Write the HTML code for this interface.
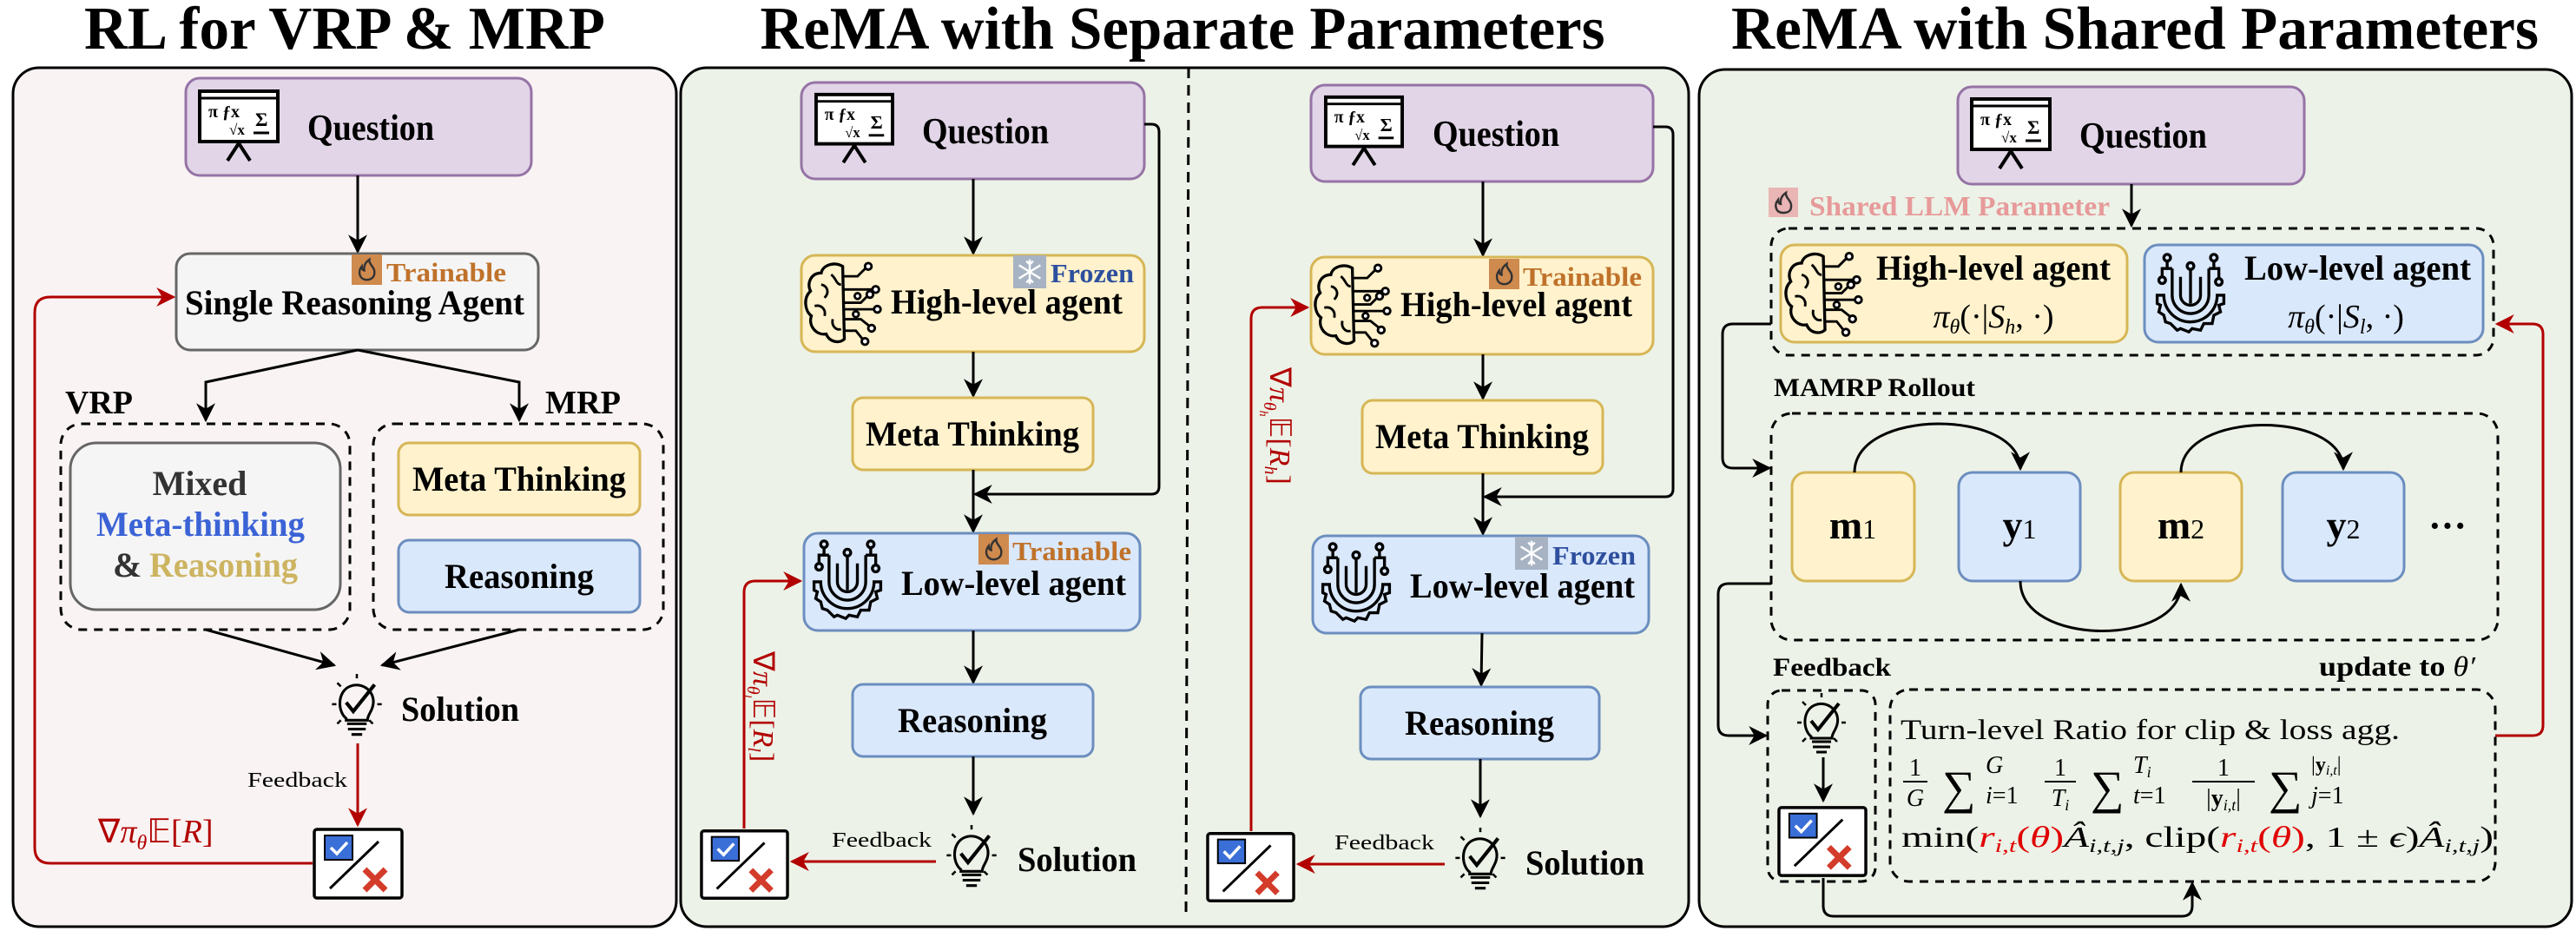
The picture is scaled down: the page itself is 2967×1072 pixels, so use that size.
<!DOCTYPE html>
<html><head><meta charset="utf-8"><style>
html,body{margin:0;padding:0;background:#fff;}
svg{display:block;}
text{font-family:"Liberation Serif",serif;}
.b{font-weight:bold;}
</style></head><body>
<svg width="2967" height="1072" viewBox="0 0 2967 1072" xmlns="http://www.w3.org/2000/svg">
<defs>
<marker id="ab" viewBox="0 0 10 10" refX="9" refY="5" markerWidth="22" markerHeight="22" markerUnits="userSpaceOnUse" orient="auto"><path d="M0,0 L10,5 L0,10 L3,5 z" fill="#000"/></marker>
<marker id="ar" viewBox="0 0 10 10" refX="9" refY="5" markerWidth="22" markerHeight="22" markerUnits="userSpaceOnUse" orient="auto"><path d="M0,0 L10,5 L0,10 L3,5 z" fill="#b20000"/></marker>
<symbol id="board" viewBox="0 0 94 84">
<rect x="2" y="2" width="90" height="58" fill="#fff" stroke="#000" stroke-width="4"/>
<line x1="2" y1="10" x2="92" y2="10" stroke="#000" stroke-width="3"/>
<text x="12" y="32" font-size="20" font-weight="bold">π ƒx</text>
<text x="36" y="52" font-size="17" font-weight="bold">√x</text>
<text x="66" y="42" font-size="22" font-weight="bold">Σ</text>
<line x1="64" y1="50" x2="82" y2="50" stroke="#000" stroke-width="3"/>
<path d="M47,62 L34,82 M47,62 L60,82" stroke="#000" stroke-width="4" fill="none"/>
</symbol>
<symbol id="brain" viewBox="0 0 100 105">
<path d="M48,8 C38,2 24,6 22,16 C10,16 4,28 9,38 C0,46 2,62 10,68 C6,80 16,92 28,90 C32,100 44,102 50,96 Z" fill="none" stroke="#000" stroke-width="3.5"/>
<path d="M22,30 C30,32 32,40 26,46 M14,56 C22,54 28,60 26,68 M36,72 C34,80 40,86 46,84 M34,18 C40,22 40,30 46,30" fill="none" stroke="#000" stroke-width="3"/>
<g stroke="#000" stroke-width="3" fill="#fff">
<path d="M50,20 H66 L76,10 M50,36 H84 M50,52 H70 L78,44 M50,60 H86 M50,72 H70 L80,80 M50,86 H64 L72,96" fill="none"/>
<circle cx="79" cy="8" r="4"/><circle cx="88" cy="36" r="4"/><circle cx="81" cy="42" r="4"/><circle cx="90" cy="60" r="4"/><circle cx="83" cy="83" r="4"/><circle cx="75" cy="99" r="4"/>
<circle cx="66" cy="44" r="3.5"/><circle cx="64" cy="66" r="3.5"/>
</g>
</symbol>
<symbol id="ugear" viewBox="0 0 100 100">
<g fill="none" stroke="#000" stroke-width="3.5">
<path d="M28,20 V52 A22,22 0 0 0 72,52 V20"/>
<path d="M38,30 V52 A12,12 0 0 0 62,52 V30"/>
<path d="M50,62 V22"/><circle cx="50" cy="17" r="4"/>
<path d="M28,20 H16 V30"/><circle cx="16" cy="34" r="4"/>
<path d="M72,20 H84 V32"/><circle cx="84" cy="36" r="4"/>
<path d="M22,10 V20 M78,10 V20"/><circle cx="22" cy="7" r="4"/><circle cx="78" cy="7" r="4"/>
<path d="M10,52 H18 A32,32 0 0 0 82,52 H90 V62 L84,64 L86,72 L78,76 L76,86 L66,86 L62,94 L52,92 L48,96 L38,92 L34,94 L26,86 L20,84 L18,76 L12,72 L14,64 L10,62 Z"/>
</g>
</symbol>
<symbol id="bulb" viewBox="0 0 60 84">
<g fill="none" stroke="#000" stroke-width="3">
<path d="M18,52 C8,44 8,22 22,16 C36,10 52,22 48,38 C46,46 42,48 42,54 H18 Z"/>
<path d="M19,58 H41 M20,64 H40 M24,70 H36"/>
<path d="M18,34 L26,44 L50,14" stroke-width="4"/>
<path d="M30,2 V7 M8,12 L12,16 M2,36 H7 M53,36 H58 M8,58 L12,54 M48,58 L44,54" stroke-width="2.5"/>
</g>
</symbol>
<symbol id="chk" viewBox="0 0 105 83">
<rect x="2" y="2" width="101" height="79" rx="3" fill="#fff" stroke="#000" stroke-width="3.5"/>
<rect x="14" y="9" width="32" height="28" fill="#3a6fd8" stroke="#000" stroke-width="2"/>
<path d="M21,23 L28,30 L40,17" stroke="#fff" stroke-width="3.5" fill="none"/>
<line x1="20" y1="70" x2="76" y2="16" stroke="#000" stroke-width="3"/>
<path d="M60,48 L84,72 M84,48 L60,72" stroke="#d33b2a" stroke-width="7"/>
</symbol>
<symbol id="flame" viewBox="0 0 36 36">
<rect width="36" height="36" fill="#cf8a4e"/>
<path d="M18,30 C9,30 7,20 12,14 C12,19 15,19 15,19 C14,12 18,8 21,6 C20,12 28,15 27,22 C27,27 23,30 18,30 Z" fill="none" stroke="#333" stroke-width="2.5"/>
</symbol>
<symbol id="snow" viewBox="0 0 40 40">
<rect width="40" height="40" fill="#a7b3c3"/>
<g stroke="#fff" stroke-width="2.5"><path d="M20,5 V35 M7,12 L33,28 M7,28 L33,12"/><path d="M16,7 L20,11 L24,7 M16,33 L20,29 L24,33" fill="none"/></g>
</symbol>
</defs>

<!-- Titles -->
<text x="397" y="56" font-size="70" class="b" text-anchor="middle" textLength="600" lengthAdjust="spacingAndGlyphs">RL for VRP &amp; MRP</text>
<text x="1362" y="56" font-size="70" class="b" text-anchor="middle" textLength="973" lengthAdjust="spacingAndGlyphs">ReMA with Separate Parameters</text>
<text x="2459" y="56" font-size="70" class="b" text-anchor="middle" textLength="930" lengthAdjust="spacingAndGlyphs">ReMA with Shared Parameters</text>

<!-- Panels -->
<rect x="15" y="78" width="764" height="989" rx="30" fill="#f9f3f3" stroke="#000" stroke-width="3"/>
<rect x="784" y="78" width="1161" height="989" rx="30" fill="#ecf2e7" stroke="#000" stroke-width="3"/>
<rect x="1957" y="80" width="1005" height="987" rx="30" fill="#ecf2e7" stroke="#000" stroke-width="3"/>
<line x1="1369" y1="78" x2="1366" y2="1056" stroke="#000" stroke-width="3" stroke-dasharray="12,8"/>

<!-- ===== Panel 1 ===== -->
<rect x="214" y="90" width="398" height="112" rx="16" fill="#e1d5e7" stroke="#9673a6" stroke-width="3"/>
<use href="#board" x="228" y="103" width="94" height="84"/>
<text x="354" y="161" font-size="42" class="b" textLength="146" lengthAdjust="spacingAndGlyphs">Question</text>
<line x1="412" y1="202" x2="412" y2="290" stroke="#000" stroke-width="3" marker-end="url(#ab)"/>
<rect x="203" y="292" width="417" height="111" rx="16" fill="#f5f5f5" stroke="#666" stroke-width="3"/>
<use href="#flame" x="405" y="293" width="35" height="35"/>
<text x="445" y="324" font-size="31" class="b" fill="#c0722a" textLength="138" lengthAdjust="spacingAndGlyphs">Trainable</text>
<text x="213" y="362" font-size="40" class="b" textLength="391" lengthAdjust="spacingAndGlyphs">Single Reasoning Agent</text>
<path d="M412,403 L237,440 L237,484" fill="none" stroke="#000" stroke-width="3" marker-end="url(#ab)"/>
<path d="M412,403 L598,440 L598,484" fill="none" stroke="#000" stroke-width="3" marker-end="url(#ab)"/>
<text x="75" y="476" font-size="38" class="b" textLength="78" lengthAdjust="spacingAndGlyphs">VRP</text>
<text x="628" y="476" font-size="38" class="b" textLength="87" lengthAdjust="spacingAndGlyphs">MRP</text>
<rect x="70" y="488" width="333" height="237" rx="24" fill="none" stroke="#000" stroke-width="3" stroke-dasharray="10,8"/>
<rect x="430" y="488" width="334" height="237" rx="24" fill="none" stroke="#000" stroke-width="3" stroke-dasharray="10,8"/>
<rect x="81" y="510" width="311" height="192" rx="30" fill="#f5f5f5" stroke="#666" stroke-width="3"/>
<text x="230" y="570" font-size="40" class="b" fill="#333" text-anchor="middle">Mixed</text>
<text x="231" y="617" font-size="40" class="b" fill="#3b63d6" text-anchor="middle" textLength="240" lengthAdjust="spacingAndGlyphs">Meta-thinking</text>
<text x="130" y="664" font-size="40" class="b" fill="#333">&amp;</text>
<text x="172" y="664" font-size="40" class="b" fill="#cdb461" textLength="171" lengthAdjust="spacingAndGlyphs">Reasoning</text>
<rect x="459" y="510" width="278" height="83" rx="12" fill="#fff2cc" stroke="#d6b656" stroke-width="3"/>
<text x="598" y="565" font-size="40" class="b" text-anchor="middle" textLength="246" lengthAdjust="spacingAndGlyphs">Meta Thinking</text>
<rect x="459" y="622" width="278" height="83" rx="12" fill="#dae8fc" stroke="#6c8ebf" stroke-width="3"/>
<text x="598" y="677" font-size="40" class="b" text-anchor="middle" textLength="172" lengthAdjust="spacingAndGlyphs">Reasoning</text>
<line x1="237" y1="725" x2="385" y2="766" stroke="#000" stroke-width="3" marker-end="url(#ab)"/>
<line x1="598" y1="725" x2="440" y2="766" stroke="#000" stroke-width="3" marker-end="url(#ab)"/>
<use href="#bulb" x="380" y="774" width="62" height="86"/>
<text x="462" y="830" font-size="40" class="b" textLength="136" lengthAdjust="spacingAndGlyphs">Solution</text>
<line x1="412" y1="856" x2="412" y2="950" stroke="#b20000" stroke-width="3" marker-end="url(#ar)"/>
<text x="285" y="906" font-size="24" textLength="115" lengthAdjust="spacingAndGlyphs">Feedback</text>
<use href="#chk" x="360" y="953" width="105" height="83"/>
<path d="M360,994 L58,994 Q40,994 40,976 L40,360 Q40,342 58,342 L200,342" fill="none" stroke="#b20000" stroke-width="3" marker-end="url(#ar)"/>
<text x="113" y="970" font-size="38" fill="#b20000">∇<tspan font-style="italic">π</tspan><tspan font-size="24" dy="8" font-style="italic">θ</tspan><tspan dy="-8">𝔼[</tspan><tspan font-style="italic">R</tspan>]</text>

<!-- ===== Panel 2 left ===== -->
<rect x="923" y="95" width="395" height="111" rx="16" fill="#e1d5e7" stroke="#9673a6" stroke-width="3"/>
<use href="#board" x="938" y="106" width="92" height="84"/>
<text x="1062" y="165" font-size="42" class="b" textLength="146" lengthAdjust="spacingAndGlyphs">Question</text>
<line x1="1121" y1="206" x2="1121" y2="292" stroke="#000" stroke-width="3" marker-end="url(#ab)"/>
<rect x="923" y="294" width="395" height="111" rx="16" fill="#fff2cc" stroke="#d6b656" stroke-width="3"/>
<use href="#brain" x="925" y="298" width="95" height="102"/>
<use href="#snow" x="1166" y="294" width="40" height="38"/>
<text x="1210" y="325" font-size="31" class="b" fill="#2d4f9e" textLength="96" lengthAdjust="spacingAndGlyphs">Frozen</text>
<text x="1026" y="361" font-size="40" class="b" textLength="267" lengthAdjust="spacingAndGlyphs">High-level agent</text>
<line x1="1121" y1="405" x2="1121" y2="456" stroke="#000" stroke-width="3" marker-end="url(#ab)"/>
<rect x="982" y="458" width="277" height="83" rx="12" fill="#fff2cc" stroke="#d6b656" stroke-width="3"/>
<text x="1120" y="513" font-size="40" class="b" text-anchor="middle" textLength="246" lengthAdjust="spacingAndGlyphs">Meta Thinking</text>
<line x1="1121" y1="541" x2="1121" y2="612" stroke="#000" stroke-width="3" marker-end="url(#ab)"/>
<path d="M1318,143 L1326,143 Q1335,143 1335,152 L1335,560 Q1335,569 1326,569 L1123,569" fill="none" stroke="#000" stroke-width="3" marker-end="url(#ab)"/>
<rect x="926" y="614" width="387" height="112" rx="16" fill="#dae8fc" stroke="#6c8ebf" stroke-width="3"/>
<use href="#ugear" x="928" y="618" width="96" height="100"/>
<use href="#flame" x="1127" y="615" width="35" height="35"/>
<text x="1166" y="645" font-size="31" class="b" fill="#c0722a" textLength="137" lengthAdjust="spacingAndGlyphs">Trainable</text>
<text x="1038" y="685" font-size="40" class="b" textLength="259" lengthAdjust="spacingAndGlyphs">Low-level agent</text>
<line x1="1121" y1="726" x2="1121" y2="786" stroke="#000" stroke-width="3" marker-end="url(#ab)"/>
<rect x="982" y="788" width="277" height="83" rx="12" fill="#dae8fc" stroke="#6c8ebf" stroke-width="3"/>
<text x="1120" y="843" font-size="40" class="b" text-anchor="middle" textLength="172" lengthAdjust="spacingAndGlyphs">Reasoning</text>
<line x1="1121" y1="871" x2="1121" y2="937" stroke="#000" stroke-width="3" marker-end="url(#ab)"/>
<use href="#bulb" x="1088" y="948" width="62" height="86"/>
<text x="1172" y="1003" font-size="40" class="b" textLength="137" lengthAdjust="spacingAndGlyphs">Solution</text>
<line x1="1078" y1="992" x2="912" y2="992" stroke="#b20000" stroke-width="3" marker-end="url(#ar)"/>
<text x="958" y="975" font-size="24" textLength="115" lengthAdjust="spacingAndGlyphs">Feedback</text>
<use href="#chk" x="806" y="954" width="103" height="83"/>
<path d="M857,954 L857,682 Q857,669 870,669 L922,669" fill="none" stroke="#b20000" stroke-width="3" marker-end="url(#ar)"/>
<text x="868" y="750" font-size="34" fill="#b20000" transform="rotate(90 868 750)">∇<tspan font-style="italic">π</tspan><tspan font-size="20" dy="7" font-style="italic">θ</tspan><tspan font-size="14" dy="5" font-style="italic">l</tspan><tspan dy="-12">𝔼[</tspan><tspan font-style="italic">R</tspan><tspan font-size="20" dy="6" font-style="italic">l</tspan><tspan dy="-6">]</tspan></text>

<!-- ===== Panel 2 right ===== -->
<rect x="1510" y="98" width="394" height="111" rx="16" fill="#e1d5e7" stroke="#9673a6" stroke-width="3"/>
<use href="#board" x="1525" y="109" width="92" height="84"/>
<text x="1650" y="168" font-size="42" class="b" textLength="146" lengthAdjust="spacingAndGlyphs">Question</text>
<line x1="1708" y1="209" x2="1708" y2="294" stroke="#000" stroke-width="3" marker-end="url(#ab)"/>
<rect x="1510" y="296" width="394" height="112" rx="16" fill="#fff2cc" stroke="#d6b656" stroke-width="3"/>
<use href="#brain" x="1512" y="300" width="95" height="102"/>
<use href="#flame" x="1715" y="298" width="35" height="35"/>
<text x="1754" y="329" font-size="31" class="b" fill="#c0722a" textLength="137" lengthAdjust="spacingAndGlyphs">Trainable</text>
<text x="1613" y="364" font-size="40" class="b" textLength="267" lengthAdjust="spacingAndGlyphs">High-level agent</text>
<line x1="1708" y1="408" x2="1708" y2="459" stroke="#000" stroke-width="3" marker-end="url(#ab)"/>
<rect x="1569" y="461" width="277" height="84" rx="12" fill="#fff2cc" stroke="#d6b656" stroke-width="3"/>
<text x="1707" y="516" font-size="40" class="b" text-anchor="middle" textLength="246" lengthAdjust="spacingAndGlyphs">Meta Thinking</text>
<line x1="1708" y1="545" x2="1708" y2="615" stroke="#000" stroke-width="3" marker-end="url(#ab)"/>
<path d="M1904,146 L1918,146 Q1927,146 1927,155 L1927,563 Q1927,572 1918,572 L1710,572" fill="none" stroke="#000" stroke-width="3" marker-end="url(#ab)"/>
<rect x="1512" y="617" width="387" height="112" rx="16" fill="#dae8fc" stroke="#6c8ebf" stroke-width="3"/>
<use href="#ugear" x="1514" y="621" width="96" height="100"/>
<use href="#snow" x="1744" y="618" width="40" height="38"/>
<text x="1788" y="650" font-size="31" class="b" fill="#2d4f9e" textLength="96" lengthAdjust="spacingAndGlyphs">Frozen</text>
<text x="1624" y="688" font-size="40" class="b" textLength="259" lengthAdjust="spacingAndGlyphs">Low-level agent</text>
<line x1="1707" y1="729" x2="1706" y2="789" stroke="#000" stroke-width="3" marker-end="url(#ab)"/>
<rect x="1567" y="791" width="275" height="83" rx="12" fill="#dae8fc" stroke="#6c8ebf" stroke-width="3"/>
<text x="1704" y="846" font-size="40" class="b" text-anchor="middle" textLength="172" lengthAdjust="spacingAndGlyphs">Reasoning</text>
<line x1="1705" y1="874" x2="1705" y2="940" stroke="#000" stroke-width="3" marker-end="url(#ab)"/>
<use href="#bulb" x="1674" y="951" width="62" height="86"/>
<text x="1757" y="1007" font-size="40" class="b" textLength="137" lengthAdjust="spacingAndGlyphs">Solution</text>
<line x1="1664" y1="995" x2="1495" y2="995" stroke="#b20000" stroke-width="3" marker-end="url(#ar)"/>
<text x="1537" y="978" font-size="24" textLength="115" lengthAdjust="spacingAndGlyphs">Feedback</text>
<use href="#chk" x="1389" y="957" width="103" height="83"/>
<path d="M1441,957 L1441,367 Q1441,354 1454,354 L1506,354" fill="none" stroke="#b20000" stroke-width="3" marker-end="url(#ar)"/>
<text x="1463" y="423" font-size="34" fill="#b20000" transform="rotate(90 1463 423)">∇<tspan font-style="italic">π</tspan><tspan font-size="20" dy="7" font-style="italic">θ</tspan><tspan font-size="14" dy="5" font-style="italic">h</tspan><tspan dy="-12">𝔼[</tspan><tspan font-style="italic">R</tspan><tspan font-size="20" dy="6" font-style="italic">h</tspan><tspan dy="-6">]</tspan></text>

<!-- ===== Panel 3 ===== -->
<rect x="2255" y="100" width="399" height="112" rx="16" fill="#e1d5e7" stroke="#9673a6" stroke-width="3"/>
<use href="#board" x="2269" y="112" width="94" height="84"/>
<text x="2395" y="170" font-size="42" class="b" textLength="147" lengthAdjust="spacingAndGlyphs">Question</text>
<line x1="2455" y1="212" x2="2455" y2="260" stroke="#000" stroke-width="3" marker-end="url(#ab)"/>
<rect x="2037" y="216" width="34" height="34" fill="#eab5b5"/>
<path d="M2054,245 C2045,245 2043,236 2048,230 C2048,235 2051,235 2051,235 C2050,228 2054,224 2057,222 C2056,228 2064,231 2063,238 C2063,243 2059,245 2054,245 Z" fill="none" stroke="#333" stroke-width="2.5"/>
<text x="2084" y="248" font-size="32" class="b" fill="#e79a9a" textLength="346" lengthAdjust="spacingAndGlyphs">Shared LLM Parameter</text>
<rect x="2040" y="263" width="832" height="146" rx="20" fill="none" stroke="#000" stroke-width="3" stroke-dasharray="10,8"/>
<rect x="2051" y="282" width="399" height="112" rx="16" fill="#fff2cc" stroke="#d6b656" stroke-width="3"/>
<use href="#brain" x="2054" y="287" width="96" height="102"/>
<text x="2161" y="322" font-size="40" class="b" textLength="270" lengthAdjust="spacingAndGlyphs">High-level agent</text>
<text x="2296" y="377" font-size="38" text-anchor="middle"><tspan font-style="italic">π</tspan><tspan font-size="24" dy="7" font-style="italic">θ</tspan><tspan dy="-7">(·|</tspan><tspan font-style="italic">S</tspan><tspan font-size="24" dy="7" font-style="italic">h</tspan><tspan dy="-7">, ·)</tspan></text>
<rect x="2470" y="282" width="390" height="112" rx="16" fill="#dae8fc" stroke="#6c8ebf" stroke-width="3"/>
<use href="#ugear" x="2475" y="288" width="96" height="100"/>
<text x="2585" y="322" font-size="40" class="b" textLength="261" lengthAdjust="spacingAndGlyphs">Low-level agent</text>
<text x="2702" y="377" font-size="38" text-anchor="middle"><tspan font-style="italic">π</tspan><tspan font-size="24" dy="7" font-style="italic">θ</tspan><tspan dy="-7">(·|</tspan><tspan font-style="italic">S</tspan><tspan font-size="24" dy="7" font-style="italic">l</tspan><tspan dy="-7">, ·)</tspan></text>
<text x="2043" y="456" font-size="30" class="b" textLength="232" lengthAdjust="spacingAndGlyphs">MAMRP Rollout</text>
<rect x="2040" y="476" width="837" height="261" rx="24" fill="none" stroke="#000" stroke-width="3" stroke-dasharray="10,8"/>
<path d="M2040,373 L1996,373 Q1984,373 1984,385 L1984,527 Q1984,539 1996,539 L2038,539" fill="none" stroke="#000" stroke-width="3" marker-end="url(#ab)"/>
<path d="M2040,672 L1991,672 Q1979,672 1979,684 L1979,835 Q1979,847 1991,847 L2034,847" fill="none" stroke="#000" stroke-width="3" marker-end="url(#ab)"/>
<rect x="2064" y="544" width="141" height="125" rx="16" fill="#fff2cc" stroke="#d6b656" stroke-width="3"/>
<rect x="2256" y="544" width="140" height="125" rx="16" fill="#dae8fc" stroke="#6c8ebf" stroke-width="3"/>
<rect x="2442" y="544" width="140" height="125" rx="16" fill="#fff2cc" stroke="#d6b656" stroke-width="3"/>
<rect x="2629" y="544" width="140" height="125" rx="16" fill="#dae8fc" stroke="#6c8ebf" stroke-width="3"/>
<text x="2134" y="620" font-size="46" text-anchor="middle"><tspan class="b">m</tspan><tspan font-size="32">1</tspan></text>
<text x="2326" y="620" font-size="46" text-anchor="middle"><tspan class="b">y</tspan><tspan font-size="32">1</tspan></text>
<text x="2512" y="620" font-size="46" text-anchor="middle"><tspan class="b">m</tspan><tspan font-size="32">2</tspan></text>
<text x="2699" y="620" font-size="46" text-anchor="middle"><tspan class="b">y</tspan><tspan font-size="32">2</tspan></text>
<text x="2819" y="620" font-size="44" class="b" text-anchor="middle">···</text>
<path d="M2136,544 C2136,470 2327,470 2327,540" fill="none" stroke="#000" stroke-width="3" marker-end="url(#ab)"/>
<path d="M2512,544 C2512,472 2699,472 2699,540" fill="none" stroke="#000" stroke-width="3" marker-end="url(#ab)"/>
<path d="M2327,669 C2327,745 2512,745 2512,673" fill="none" stroke="#000" stroke-width="3" marker-end="url(#ab)"/>
<text x="2042" y="778" font-size="30" class="b" textLength="136" lengthAdjust="spacingAndGlyphs">Feedback</text>
<text x="2671" y="778" font-size="32" class="b" textLength="180" lengthAdjust="spacingAndGlyphs">update to <tspan font-style="italic" font-weight="normal">θ′</tspan></text>
<rect x="2036" y="795" width="124" height="220" rx="16" fill="none" stroke="#000" stroke-width="3" stroke-dasharray="10,8"/>
<use href="#bulb" x="2068" y="796" width="60" height="84"/>
<line x1="2100" y1="872" x2="2100" y2="922" stroke="#000" stroke-width="3" marker-end="url(#ab)"/>
<use href="#chk" x="2047" y="927" width="104" height="84"/>
<rect x="2177" y="794" width="697" height="221" rx="22" fill="none" stroke="#000" stroke-width="3" stroke-dasharray="10,8"/>
<path d="M2100,1011 L2100,1043 Q2100,1055 2112,1055 L2513,1055 Q2525,1055 2525,1043 L2525,1017" fill="none" stroke="#000" stroke-width="3" marker-end="url(#ab)"/>
<path d="M2874,847 L2917,847 Q2929,847 2929,835 L2929,385 Q2929,373 2917,373 L2876,373" fill="none" stroke="#b20000" stroke-width="3" marker-end="url(#ar)"/>
<text x="2189" y="851" font-size="33" textLength="575" lengthAdjust="spacingAndGlyphs">Turn-level Ratio for clip &amp; loss agg.</text>
<!-- formula line 2 -->
<g font-size="28">
<text x="2206" y="893" text-anchor="middle">1</text>
<line x1="2192" y1="900" x2="2220" y2="900" stroke="#000" stroke-width="2"/>
<text x="2206" y="928" text-anchor="middle" font-style="italic">G</text>
<text x="2237" y="925" font-size="54">∑</text>
<text x="2287" y="890" font-style="italic">G</text>
<text x="2287" y="925"><tspan font-style="italic">i</tspan>=1</text>
<text x="2373" y="893" text-anchor="middle">1</text>
<line x1="2355" y1="900" x2="2391" y2="900" stroke="#000" stroke-width="2"/>
<text x="2373" y="928" text-anchor="middle" font-style="italic">T<tspan font-size="18" dy="5">i</tspan></text>
<text x="2408" y="925" font-size="54">∑</text>
<text x="2457" y="890" font-style="italic">T<tspan font-size="18" dy="5">i</tspan></text>
<text x="2457" y="925"><tspan font-style="italic">t</tspan>=1</text>
<text x="2561" y="893" text-anchor="middle">1</text>
<line x1="2525" y1="900" x2="2597" y2="900" stroke="#000" stroke-width="2"/>
<text x="2561" y="928" text-anchor="middle">|<tspan class="b">y</tspan><tspan font-size="18" dy="5" font-style="italic">i,t</tspan><tspan dy="-5">|</tspan></text>
<text x="2613" y="925" font-size="54">∑</text>
<text x="2662" y="888" font-size="24">|<tspan class="b">y</tspan><tspan font-size="16" dy="4" font-style="italic">i,t</tspan><tspan dy="-4">|</tspan></text>
<text x="2662" y="925"><tspan font-style="italic">j</tspan>=1</text>
</g>
<text x="2190" y="975" font-size="34" textLength="682" lengthAdjust="spacingAndGlyphs">min(<tspan fill="#e00000" font-style="italic">r</tspan><tspan fill="#e00000" font-size="22" dy="6" font-style="italic">i,t</tspan><tspan fill="#e00000" dy="-6">(<tspan font-style="italic">θ</tspan>)</tspan><tspan font-style="italic">Â</tspan><tspan font-size="22" dy="6" font-style="italic">i,t,j</tspan><tspan dy="-6">, clip(</tspan><tspan fill="#e00000" font-style="italic">r</tspan><tspan fill="#e00000" font-size="22" dy="6" font-style="italic">i,t</tspan><tspan fill="#e00000" dy="-6">(<tspan font-style="italic">θ</tspan>)</tspan>, 1 ± <tspan font-style="italic">ϵ</tspan>)<tspan font-style="italic">Â</tspan><tspan font-size="22" dy="6" font-style="italic">i,t,j</tspan><tspan dy="-6">)</tspan></text>
</svg>
</body></html>
